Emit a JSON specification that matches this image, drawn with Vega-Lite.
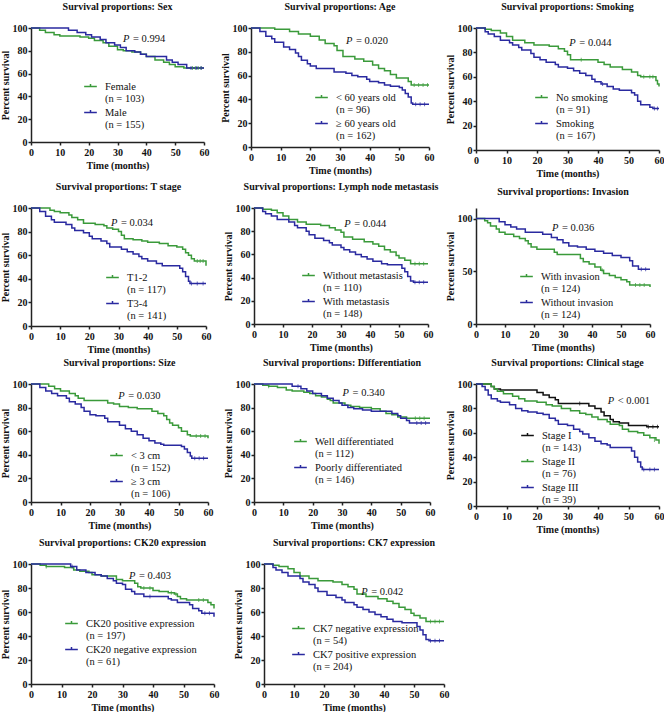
{
"$schema": "https://vega.github.io/schema/vega-lite/v6.json",
"padding": {"left": 0, "top": 2, "right": 0, "bottom": 0},
"bounds": "full",
"spacing": 4,
"config": {
 "font": "Liberation Serif",
 "view": {"stroke": null},
 "axis": {"grid": false, "labelOverlap": false, "labelFlush": false, "tickCount": 20, "domainColor": "#222", "domainWidth": 1.5, "tickColor": "#222", "tickWidth": 1.5, "tickSize": 3, "labelFont": "Liberation Serif", "labelFontWeight": "bold", "labelFontSize": 10, "labelColor": "#111", "labelPadding": 1, "titleFont": "Liberation Serif", "titleFontWeight": "bold", "titleFontSize": 10, "titleColor": "#111"},
 "axisX": {"titlePadding": 3, "labelPadding": 2, "labelFlush": false},
 "axisY": {"titlePadding": 2},
 "title": {"font": "Liberation Serif", "fontSize": 10, "fontWeight": "bold", "color": "#111", "offset": 11, "anchor": "middle"},
 "legend": {"labelFont": "Liberation Serif", "labelFontSize": 10.5, "labelColor": "#111", "symbolStrokeWidth": 1.5, "symbolSize": 160, "symbolType": "M-1,0H1M0,0V-0.4", "labelOffset": 7, "rowPadding": 0, "padding": 0, "labelLimit": 300, "title": null},
 "line": {"interpolate": "step-after", "strokeWidth": 1.5},
 "tick": {"orient": "vertical", "size": 4, "thickness": 1}
},
"resolve": {"scale": {"color": "independent"}, "legend": {"color": "independent"}},
"datasets": {
 "cens": [
  {"p":"sex","g":"Female (n = 103)","t":56,"s":65},{"p":"sex","g":"Female (n = 103)","t":57,"s":65},{"p":"sex","g":"Female (n = 103)","t":58,"s":65},{"p":"sex","g":"Female (n = 103)","t":59,"s":65},
  {"p":"sex","g":"Male (n = 155)","t":55.5,"s":65},{"p":"sex","g":"Male (n = 155)","t":57.5,"s":65},{"p":"sex","g":"Male (n = 155)","t":59,"s":65},
  {"p":"age","g":"< 60 years old (n = 96)","t":55,"s":52},{"p":"age","g":"< 60 years old (n = 96)","t":56.5,"s":52},{"p":"age","g":"< 60 years old (n = 96)","t":58,"s":52},{"p":"age","g":"< 60 years old (n = 96)","t":59.5,"s":52},
  {"p":"age","g":"≥ 60 years old (n = 162)","t":55.5,"s":36},{"p":"age","g":"≥ 60 years old (n = 162)","t":57,"s":36},{"p":"age","g":"≥ 60 years old (n = 162)","t":58.5,"s":36},
  {"p":"smoke","g":"No smoking (n = 91)","t":34.5,"s":74},{"p":"smoke","g":"No smoking (n = 91)","t":55,"s":60},{"p":"smoke","g":"No smoking (n = 91)","t":57,"s":60},{"p":"smoke","g":"No smoking (n = 91)","t":58,"s":60},
  {"p":"smoke","g":"Smoking (n = 167)","t":41.5,"s":54},{"p":"smoke","g":"Smoking (n = 167)","t":58.5,"s":34},{"p":"smoke","g":"Smoking (n = 167)","t":59.5,"s":34},
  {"p":"tstage","g":"T1-2 (n = 117)","t":57,"s":55},{"p":"tstage","g":"T1-2 (n = 117)","t":58,"s":55},{"p":"tstage","g":"T1-2 (n = 117)","t":59,"s":55},
  {"p":"tstage","g":"T3-4 (n = 141)","t":55,"s":36},{"p":"tstage","g":"T3-4 (n = 141)","t":57,"s":36},{"p":"tstage","g":"T3-4 (n = 141)","t":59,"s":36},
  {"p":"lymph","g":"Without metastasis (n = 110)","t":55.5,"s":52},{"p":"lymph","g":"Without metastasis (n = 110)","t":57,"s":52},{"p":"lymph","g":"Without metastasis (n = 110)","t":58.5,"s":52},
  {"p":"lymph","g":"With metastasis (n = 148)","t":55.5,"s":36},{"p":"lymph","g":"With metastasis (n = 148)","t":57,"s":36},{"p":"lymph","g":"With metastasis (n = 148)","t":58.5,"s":36},
  {"p":"inv","g":"With invasion (n = 124)","t":43.5,"s":51},{"p":"inv","g":"With invasion (n = 124)","t":55,"s":37},{"p":"inv","g":"With invasion (n = 124)","t":56.5,"s":37},{"p":"inv","g":"With invasion (n = 124)","t":58,"s":37},
  {"p":"inv","g":"Without invasion (n = 124)","t":57,"s":52},{"p":"inv","g":"Without invasion (n = 124)","t":58.5,"s":52},
  {"p":"size","g":"< 3 cm (n = 152)","t":56,"s":56},{"p":"size","g":"< 3 cm (n = 152)","t":57.5,"s":56},{"p":"size","g":"< 3 cm (n = 152)","t":59,"s":56},
  {"p":"size","g":"≥ 3 cm (n = 106)","t":55.5,"s":37},{"p":"size","g":"≥ 3 cm (n = 106)","t":57,"s":37},{"p":"size","g":"≥ 3 cm (n = 106)","t":58.5,"s":37},
  {"p":"diff","g":"Well differentiated (n = 112)","t":5,"s":98},{"p":"diff","g":"Well differentiated (n = 112)","t":55,"s":71},{"p":"diff","g":"Well differentiated (n = 112)","t":56.5,"s":71},{"p":"diff","g":"Well differentiated (n = 112)","t":58,"s":71},
  {"p":"diff","g":"Poorly differentiated (n = 146)","t":15,"s":98},{"p":"diff","g":"Poorly differentiated (n = 146)","t":55.5,"s":67},{"p":"diff","g":"Poorly differentiated (n = 146)","t":57,"s":67},{"p":"diff","g":"Poorly differentiated (n = 146)","t":58.5,"s":67},
  {"p":"clin","g":"Stage I (n = 143)","t":34,"s":84},{"p":"clin","g":"Stage I (n = 143)","t":56.5,"s":65},{"p":"clin","g":"Stage I (n = 143)","t":58,"s":65},{"p":"clin","g":"Stage I (n = 143)","t":59.5,"s":65},
  {"p":"clin","g":"Stage II (n = 76)","t":58.5,"s":54},
  {"p":"clin","g":"Stage III (n = 39)","t":55,"s":30},{"p":"clin","g":"Stage III (n = 39)","t":57,"s":30},{"p":"clin","g":"Stage III (n = 39)","t":58.5,"s":30},
  {"p":"ck20","g":"CK20 positive expression (n = 197)","t":5,"s":98},{"p":"ck20","g":"CK20 positive expression (n = 197)","t":37,"s":80},{"p":"ck20","g":"CK20 positive expression (n = 197)","t":39,"s":80},{"p":"ck20","g":"CK20 positive expression (n = 197)","t":46,"s":76},{"p":"ck20","g":"CK20 positive expression (n = 197)","t":47.5,"s":75},{"p":"ck20","g":"CK20 positive expression (n = 197)","t":55,"s":70},{"p":"ck20","g":"CK20 positive expression (n = 197)","t":56.5,"s":70},
  {"p":"ck20","g":"CK20 negative expression (n = 61)","t":13.5,"s":98},{"p":"ck20","g":"CK20 negative expression (n = 61)","t":39,"s":73},{"p":"ck20","g":"CK20 negative expression (n = 61)","t":57,"s":59},{"p":"ck20","g":"CK20 negative expression (n = 61)","t":58.5,"s":59},
  {"p":"ck7","g":"CK7 negative expression (n = 54)","t":55.5,"s":52},{"p":"ck7","g":"CK7 negative expression (n = 54)","t":57,"s":52},{"p":"ck7","g":"CK7 negative expression (n = 54)","t":58.5,"s":52},
  {"p":"ck7","g":"CK7 positive expression (n = 204)","t":55.5,"s":36},{"p":"ck7","g":"CK7 positive expression (n = 204)","t":57,"s":36},{"p":"ck7","g":"CK7 positive expression (n = 204)","t":58.5,"s":36}
 ],
 "sex": [
  {"g":"Female (n = 103)","t":0,"s":100},{"g":"Female (n = 103)","t":3,"s":98},{"g":"Female (n = 103)","t":5,"s":96},{"g":"Female (n = 103)","t":8,"s":94},{"g":"Female (n = 103)","t":10,"s":93},{"g":"Female (n = 103)","t":17,"s":92},{"g":"Female (n = 103)","t":20,"s":91},{"g":"Female (n = 103)","t":22,"s":89},{"g":"Female (n = 103)","t":25,"s":87},{"g":"Female (n = 103)","t":27,"s":84},{"g":"Female (n = 103)","t":30,"s":81},{"g":"Female (n = 103)","t":32,"s":80},{"g":"Female (n = 103)","t":35,"s":79},{"g":"Female (n = 103)","t":38,"s":77},{"g":"Female (n = 103)","t":40,"s":75},{"g":"Female (n = 103)","t":43,"s":72},{"g":"Female (n = 103)","t":46,"s":70},{"g":"Female (n = 103)","t":48,"s":68},{"g":"Female (n = 103)","t":50,"s":66},{"g":"Female (n = 103)","t":53,"s":65},{"g":"Female (n = 103)","t":60,"s":65},
  {"g":"Male (n = 155)","t":0,"s":100},{"g":"Male (n = 155)","t":13,"s":98},{"g":"Male (n = 155)","t":16,"s":96},{"g":"Male (n = 155)","t":19,"s":94},{"g":"Male (n = 155)","t":21,"s":92},{"g":"Male (n = 155)","t":24,"s":90},{"g":"Male (n = 155)","t":26,"s":87},{"g":"Male (n = 155)","t":29,"s":85},{"g":"Male (n = 155)","t":31,"s":83},{"g":"Male (n = 155)","t":33,"s":80},{"g":"Male (n = 155)","t":36,"s":79},{"g":"Male (n = 155)","t":38,"s":77},{"g":"Male (n = 155)","t":40,"s":75},{"g":"Male (n = 155)","t":47,"s":72},{"g":"Male (n = 155)","t":49,"s":70},{"g":"Male (n = 155)","t":51,"s":68},{"g":"Male (n = 155)","t":54,"s":65},{"g":"Male (n = 155)","t":60,"s":65}
 ],
 "age": [
  {"g":"< 60 years old (n = 96)","t":0,"s":100},{"g":"< 60 years old (n = 96)","t":8,"s":99},{"g":"< 60 years old (n = 96)","t":13,"s":97},{"g":"< 60 years old (n = 96)","t":16,"s":95},{"g":"< 60 years old (n = 96)","t":20,"s":93},{"g":"< 60 years old (n = 96)","t":23,"s":90},{"g":"< 60 years old (n = 96)","t":25,"s":87},{"g":"< 60 years old (n = 96)","t":28,"s":85},{"g":"< 60 years old (n = 96)","t":29,"s":81},{"g":"< 60 years old (n = 96)","t":31,"s":76},{"g":"< 60 years old (n = 96)","t":35,"s":74},{"g":"< 60 years old (n = 96)","t":38,"s":72},{"g":"< 60 years old (n = 96)","t":41,"s":69},{"g":"< 60 years old (n = 96)","t":43,"s":66},{"g":"< 60 years old (n = 96)","t":45,"s":64},{"g":"< 60 years old (n = 96)","t":47,"s":61},{"g":"< 60 years old (n = 96)","t":49,"s":58},{"g":"< 60 years old (n = 96)","t":53,"s":55},{"g":"< 60 years old (n = 96)","t":54,"s":52},{"g":"< 60 years old (n = 96)","t":60,"s":52},
  {"g":"≥ 60 years old (n = 162)","t":0,"s":100},{"g":"≥ 60 years old (n = 162)","t":3,"s":97},{"g":"≥ 60 years old (n = 162)","t":5,"s":93},{"g":"≥ 60 years old (n = 162)","t":7,"s":91},{"g":"≥ 60 years old (n = 162)","t":8,"s":88},{"g":"≥ 60 years old (n = 162)","t":11,"s":84},{"g":"≥ 60 years old (n = 162)","t":13,"s":82},{"g":"≥ 60 years old (n = 162)","t":15,"s":79},{"g":"≥ 60 years old (n = 162)","t":16,"s":76},{"g":"≥ 60 years old (n = 162)","t":17,"s":73},{"g":"≥ 60 years old (n = 162)","t":19,"s":70},{"g":"≥ 60 years old (n = 162)","t":20,"s":68},{"g":"≥ 60 years old (n = 162)","t":22,"s":66},{"g":"≥ 60 years old (n = 162)","t":28,"s":63},{"g":"≥ 60 years old (n = 162)","t":32,"s":62},{"g":"≥ 60 years old (n = 162)","t":34,"s":60},{"g":"≥ 60 years old (n = 162)","t":36,"s":59},{"g":"≥ 60 years old (n = 162)","t":39,"s":57},{"g":"≥ 60 years old (n = 162)","t":40,"s":55},{"g":"≥ 60 years old (n = 162)","t":43,"s":54},{"g":"≥ 60 years old (n = 162)","t":45,"s":52},{"g":"≥ 60 years old (n = 162)","t":47,"s":51},{"g":"≥ 60 years old (n = 162)","t":50,"s":50},{"g":"≥ 60 years old (n = 162)","t":51,"s":48},{"g":"≥ 60 years old (n = 162)","t":52,"s":45},{"g":"≥ 60 years old (n = 162)","t":53,"s":42},{"g":"≥ 60 years old (n = 162)","t":54,"s":37},{"g":"≥ 60 years old (n = 162)","t":54.5,"s":36},{"g":"≥ 60 years old (n = 162)","t":60,"s":36}
 ],
 "smoke": [
  {"g":"No smoking (n = 91)","t":0,"s":100},{"g":"No smoking (n = 91)","t":3,"s":99},{"g":"No smoking (n = 91)","t":5,"s":98},{"g":"No smoking (n = 91)","t":8,"s":96},{"g":"No smoking (n = 91)","t":10,"s":93},{"g":"No smoking (n = 91)","t":12,"s":90},{"g":"No smoking (n = 91)","t":16,"s":88},{"g":"No smoking (n = 91)","t":19,"s":86},{"g":"No smoking (n = 91)","t":24,"s":85},{"g":"No smoking (n = 91)","t":27,"s":83},{"g":"No smoking (n = 91)","t":29,"s":81},{"g":"No smoking (n = 91)","t":30,"s":78},{"g":"No smoking (n = 91)","t":31,"s":74},{"g":"No smoking (n = 91)","t":40,"s":72},{"g":"No smoking (n = 91)","t":42,"s":70},{"g":"No smoking (n = 91)","t":44,"s":68},{"g":"No smoking (n = 91)","t":48,"s":66},{"g":"No smoking (n = 91)","t":51,"s":64},{"g":"No smoking (n = 91)","t":53,"s":61},{"g":"No smoking (n = 91)","t":54,"s":60},{"g":"No smoking (n = 91)","t":59,"s":57},{"g":"No smoking (n = 91)","t":59.5,"s":54},{"g":"No smoking (n = 91)","t":60,"s":52},
  {"g":"Smoking (n = 167)","t":0,"s":100},{"g":"Smoking (n = 167)","t":3,"s":97},{"g":"Smoking (n = 167)","t":4,"s":95},{"g":"Smoking (n = 167)","t":6,"s":93},{"g":"Smoking (n = 167)","t":8,"s":90},{"g":"Smoking (n = 167)","t":11,"s":88},{"g":"Smoking (n = 167)","t":12,"s":86},{"g":"Smoking (n = 167)","t":14,"s":84},{"g":"Smoking (n = 167)","t":15,"s":82},{"g":"Smoking (n = 167)","t":18,"s":79},{"g":"Smoking (n = 167)","t":19,"s":76},{"g":"Smoking (n = 167)","t":21,"s":74},{"g":"Smoking (n = 167)","t":23,"s":72},{"g":"Smoking (n = 167)","t":26,"s":70},{"g":"Smoking (n = 167)","t":27,"s":68},{"g":"Smoking (n = 167)","t":30,"s":67},{"g":"Smoking (n = 167)","t":32,"s":65},{"g":"Smoking (n = 167)","t":34,"s":63},{"g":"Smoking (n = 167)","t":36,"s":61},{"g":"Smoking (n = 167)","t":38,"s":58},{"g":"Smoking (n = 167)","t":39,"s":56},{"g":"Smoking (n = 167)","t":41,"s":54},{"g":"Smoking (n = 167)","t":43,"s":52},{"g":"Smoking (n = 167)","t":45,"s":50},{"g":"Smoking (n = 167)","t":47,"s":49},{"g":"Smoking (n = 167)","t":51,"s":47},{"g":"Smoking (n = 167)","t":52,"s":45},{"g":"Smoking (n = 167)","t":53,"s":40},{"g":"Smoking (n = 167)","t":54,"s":37},{"g":"Smoking (n = 167)","t":57,"s":35},{"g":"Smoking (n = 167)","t":58,"s":34},{"g":"Smoking (n = 167)","t":60,"s":34}
 ],
 "tstage": [
  {"g":"T1-2 (n = 117)","t":0,"s":100},{"g":"T1-2 (n = 117)","t":6.5,"s":98},{"g":"T1-2 (n = 117)","t":8,"s":97},{"g":"T1-2 (n = 117)","t":10,"s":96},{"g":"T1-2 (n = 117)","t":13,"s":94},{"g":"T1-2 (n = 117)","t":14,"s":92},{"g":"T1-2 (n = 117)","t":16,"s":90},{"g":"T1-2 (n = 117)","t":18,"s":87},{"g":"T1-2 (n = 117)","t":22,"s":86},{"g":"T1-2 (n = 117)","t":25,"s":85},{"g":"T1-2 (n = 117)","t":26,"s":83},{"g":"T1-2 (n = 117)","t":28,"s":82},{"g":"T1-2 (n = 117)","t":30,"s":80},{"g":"T1-2 (n = 117)","t":31,"s":77},{"g":"T1-2 (n = 117)","t":32,"s":74},{"g":"T1-2 (n = 117)","t":35,"s":73},{"g":"T1-2 (n = 117)","t":38,"s":72},{"g":"T1-2 (n = 117)","t":40,"s":71},{"g":"T1-2 (n = 117)","t":44,"s":70},{"g":"T1-2 (n = 117)","t":47,"s":68},{"g":"T1-2 (n = 117)","t":50,"s":67},{"g":"T1-2 (n = 117)","t":52,"s":65},{"g":"T1-2 (n = 117)","t":53,"s":62},{"g":"T1-2 (n = 117)","t":54,"s":60},{"g":"T1-2 (n = 117)","t":55,"s":57},{"g":"T1-2 (n = 117)","t":56,"s":55},{"g":"T1-2 (n = 117)","t":59.5,"s":55},{"g":"T1-2 (n = 117)","t":60,"s":51},
  {"g":"T3-4 (n = 141)","t":0,"s":100},{"g":"T3-4 (n = 141)","t":3,"s":97},{"g":"T3-4 (n = 141)","t":5,"s":93},{"g":"T3-4 (n = 141)","t":7,"s":90},{"g":"T3-4 (n = 141)","t":8,"s":88},{"g":"T3-4 (n = 141)","t":12,"s":86},{"g":"T3-4 (n = 141)","t":14,"s":83},{"g":"T3-4 (n = 141)","t":15,"s":81},{"g":"T3-4 (n = 141)","t":18,"s":79},{"g":"T3-4 (n = 141)","t":20,"s":76},{"g":"T3-4 (n = 141)","t":21,"s":74},{"g":"T3-4 (n = 141)","t":24,"s":72},{"g":"T3-4 (n = 141)","t":26,"s":70},{"g":"T3-4 (n = 141)","t":27,"s":67},{"g":"T3-4 (n = 141)","t":31,"s":65},{"g":"T3-4 (n = 141)","t":33,"s":63},{"g":"T3-4 (n = 141)","t":35,"s":61},{"g":"T3-4 (n = 141)","t":37,"s":59},{"g":"T3-4 (n = 141)","t":38,"s":57},{"g":"T3-4 (n = 141)","t":40,"s":55},{"g":"T3-4 (n = 141)","t":43,"s":53},{"g":"T3-4 (n = 141)","t":45,"s":51},{"g":"T3-4 (n = 141)","t":51,"s":49},{"g":"T3-4 (n = 141)","t":52,"s":46},{"g":"T3-4 (n = 141)","t":53,"s":42},{"g":"T3-4 (n = 141)","t":54,"s":38},{"g":"T3-4 (n = 141)","t":54.5,"s":36},{"g":"T3-4 (n = 141)","t":60,"s":36}
 ],
 "lymph": [
  {"g":"Without metastasis (n = 110)","t":0,"s":100},{"g":"Without metastasis (n = 110)","t":3,"s":99},{"g":"Without metastasis (n = 110)","t":6,"s":98},{"g":"Without metastasis (n = 110)","t":8,"s":96},{"g":"Without metastasis (n = 110)","t":10,"s":93},{"g":"Without metastasis (n = 110)","t":12,"s":90},{"g":"Without metastasis (n = 110)","t":15,"s":88},{"g":"Without metastasis (n = 110)","t":18,"s":86},{"g":"Without metastasis (n = 110)","t":23,"s":85},{"g":"Without metastasis (n = 110)","t":26,"s":83},{"g":"Without metastasis (n = 110)","t":28,"s":81},{"g":"Without metastasis (n = 110)","t":30,"s":79},{"g":"Without metastasis (n = 110)","t":31,"s":75},{"g":"Without metastasis (n = 110)","t":34,"s":73},{"g":"Without metastasis (n = 110)","t":38,"s":71},{"g":"Without metastasis (n = 110)","t":41,"s":69},{"g":"Without metastasis (n = 110)","t":43,"s":67},{"g":"Without metastasis (n = 110)","t":45,"s":64},{"g":"Without metastasis (n = 110)","t":47,"s":62},{"g":"Without metastasis (n = 110)","t":49,"s":59},{"g":"Without metastasis (n = 110)","t":50,"s":57},{"g":"Without metastasis (n = 110)","t":52,"s":55},{"g":"Without metastasis (n = 110)","t":54,"s":52},{"g":"Without metastasis (n = 110)","t":60,"s":52},
  {"g":"With metastasis (n = 148)","t":0,"s":100},{"g":"With metastasis (n = 148)","t":3,"s":97},{"g":"With metastasis (n = 148)","t":4,"s":95},{"g":"With metastasis (n = 148)","t":6,"s":93},{"g":"With metastasis (n = 148)","t":8,"s":90},{"g":"With metastasis (n = 148)","t":12,"s":88},{"g":"With metastasis (n = 148)","t":14,"s":85},{"g":"With metastasis (n = 148)","t":15,"s":83},{"g":"With metastasis (n = 148)","t":18,"s":80},{"g":"With metastasis (n = 148)","t":19,"s":77},{"g":"With metastasis (n = 148)","t":21,"s":74},{"g":"With metastasis (n = 148)","t":24,"s":72},{"g":"With metastasis (n = 148)","t":26,"s":70},{"g":"With metastasis (n = 148)","t":27,"s":68},{"g":"With metastasis (n = 148)","t":30,"s":66},{"g":"With metastasis (n = 148)","t":31,"s":64},{"g":"With metastasis (n = 148)","t":33,"s":62},{"g":"With metastasis (n = 148)","t":35,"s":60},{"g":"With metastasis (n = 148)","t":37,"s":58},{"g":"With metastasis (n = 148)","t":39,"s":56},{"g":"With metastasis (n = 148)","t":41,"s":54},{"g":"With metastasis (n = 148)","t":44,"s":52},{"g":"With metastasis (n = 148)","t":46,"s":51},{"g":"With metastasis (n = 148)","t":51,"s":48},{"g":"With metastasis (n = 148)","t":52,"s":45},{"g":"With metastasis (n = 148)","t":53,"s":41},{"g":"With metastasis (n = 148)","t":54,"s":37},{"g":"With metastasis (n = 148)","t":55,"s":36},{"g":"With metastasis (n = 148)","t":60,"s":36}
 ],
 "inv": [
  {"g":"With invasion (n = 124)","t":0,"s":100},{"g":"With invasion (n = 124)","t":3,"s":98},{"g":"With invasion (n = 124)","t":4,"s":96},{"g":"With invasion (n = 124)","t":5,"s":93},{"g":"With invasion (n = 124)","t":7,"s":90},{"g":"With invasion (n = 124)","t":8,"s":87},{"g":"With invasion (n = 124)","t":10,"s":85},{"g":"With invasion (n = 124)","t":13,"s":83},{"g":"With invasion (n = 124)","t":15,"s":81},{"g":"With invasion (n = 124)","t":17,"s":79},{"g":"With invasion (n = 124)","t":18,"s":76},{"g":"With invasion (n = 124)","t":19,"s":73},{"g":"With invasion (n = 124)","t":21,"s":71},{"g":"With invasion (n = 124)","t":27,"s":68},{"g":"With invasion (n = 124)","t":28,"s":66},{"g":"With invasion (n = 124)","t":36,"s":62},{"g":"With invasion (n = 124)","t":37,"s":59},{"g":"With invasion (n = 124)","t":39,"s":57},{"g":"With invasion (n = 124)","t":41,"s":54},{"g":"With invasion (n = 124)","t":43,"s":51},{"g":"With invasion (n = 124)","t":44,"s":48},{"g":"With invasion (n = 124)","t":46,"s":46},{"g":"With invasion (n = 124)","t":48,"s":44},{"g":"With invasion (n = 124)","t":50,"s":42},{"g":"With invasion (n = 124)","t":52,"s":40},{"g":"With invasion (n = 124)","t":53,"s":37},{"g":"With invasion (n = 124)","t":59,"s":37},{"g":"With invasion (n = 124)","t":60,"s":35},
  {"g":"Without invasion (n = 124)","t":0,"s":100},{"g":"Without invasion (n = 124)","t":8,"s":97},{"g":"Without invasion (n = 124)","t":10,"s":94},{"g":"Without invasion (n = 124)","t":12,"s":92},{"g":"Without invasion (n = 124)","t":14,"s":90},{"g":"Without invasion (n = 124)","t":17,"s":87},{"g":"Without invasion (n = 124)","t":23,"s":85},{"g":"Without invasion (n = 124)","t":26,"s":82},{"g":"Without invasion (n = 124)","t":28,"s":80},{"g":"Without invasion (n = 124)","t":30,"s":77},{"g":"Without invasion (n = 124)","t":32,"s":74},{"g":"Without invasion (n = 124)","t":35,"s":73},{"g":"Without invasion (n = 124)","t":38,"s":71},{"g":"Without invasion (n = 124)","t":41,"s":69},{"g":"Without invasion (n = 124)","t":44,"s":67},{"g":"Without invasion (n = 124)","t":47,"s":65},{"g":"Without invasion (n = 124)","t":50,"s":63},{"g":"Without invasion (n = 124)","t":53,"s":60},{"g":"Without invasion (n = 124)","t":54,"s":55},{"g":"Without invasion (n = 124)","t":56,"s":52},{"g":"Without invasion (n = 124)","t":60,"s":52}
 ],
 "size": [
  {"g":"< 3 cm (n = 152)","t":0,"s":100},{"g":"< 3 cm (n = 152)","t":6,"s":98},{"g":"< 3 cm (n = 152)","t":8,"s":96},{"g":"< 3 cm (n = 152)","t":10,"s":94},{"g":"< 3 cm (n = 152)","t":13,"s":92},{"g":"< 3 cm (n = 152)","t":15,"s":90},{"g":"< 3 cm (n = 152)","t":16,"s":88},{"g":"< 3 cm (n = 152)","t":18,"s":86},{"g":"< 3 cm (n = 152)","t":26,"s":84},{"g":"< 3 cm (n = 152)","t":28,"s":83},{"g":"< 3 cm (n = 152)","t":30,"s":81},{"g":"< 3 cm (n = 152)","t":33,"s":80},{"g":"< 3 cm (n = 152)","t":36,"s":79},{"g":"< 3 cm (n = 152)","t":41,"s":77},{"g":"< 3 cm (n = 152)","t":43,"s":75},{"g":"< 3 cm (n = 152)","t":45,"s":73},{"g":"< 3 cm (n = 152)","t":46,"s":70},{"g":"< 3 cm (n = 152)","t":47,"s":67},{"g":"< 3 cm (n = 152)","t":48,"s":65},{"g":"< 3 cm (n = 152)","t":50,"s":63},{"g":"< 3 cm (n = 152)","t":51,"s":60},{"g":"< 3 cm (n = 152)","t":53,"s":57},{"g":"< 3 cm (n = 152)","t":54,"s":56},{"g":"< 3 cm (n = 152)","t":59.5,"s":56},{"g":"< 3 cm (n = 152)","t":60,"s":54},
  {"g":"≥ 3 cm (n = 106)","t":0,"s":100},{"g":"≥ 3 cm (n = 106)","t":3,"s":97},{"g":"≥ 3 cm (n = 106)","t":5,"s":94},{"g":"≥ 3 cm (n = 106)","t":7,"s":92},{"g":"≥ 3 cm (n = 106)","t":9,"s":90},{"g":"≥ 3 cm (n = 106)","t":12,"s":88},{"g":"≥ 3 cm (n = 106)","t":13,"s":85},{"g":"≥ 3 cm (n = 106)","t":15,"s":83},{"g":"≥ 3 cm (n = 106)","t":17,"s":80},{"g":"≥ 3 cm (n = 106)","t":18,"s":77},{"g":"≥ 3 cm (n = 106)","t":20,"s":74},{"g":"≥ 3 cm (n = 106)","t":22,"s":73},{"g":"≥ 3 cm (n = 106)","t":25,"s":71},{"g":"≥ 3 cm (n = 106)","t":26,"s":68},{"g":"≥ 3 cm (n = 106)","t":30,"s":65},{"g":"≥ 3 cm (n = 106)","t":32,"s":62},{"g":"≥ 3 cm (n = 106)","t":34,"s":60},{"g":"≥ 3 cm (n = 106)","t":36,"s":57},{"g":"≥ 3 cm (n = 106)","t":38,"s":54},{"g":"≥ 3 cm (n = 106)","t":40,"s":52},{"g":"≥ 3 cm (n = 106)","t":42,"s":50},{"g":"≥ 3 cm (n = 106)","t":44,"s":49},{"g":"≥ 3 cm (n = 106)","t":45,"s":48},{"g":"≥ 3 cm (n = 106)","t":51,"s":47},{"g":"≥ 3 cm (n = 106)","t":52,"s":45},{"g":"≥ 3 cm (n = 106)","t":53,"s":42},{"g":"≥ 3 cm (n = 106)","t":54,"s":39},{"g":"≥ 3 cm (n = 106)","t":54.5,"s":37},{"g":"≥ 3 cm (n = 106)","t":60,"s":37}
 ],
 "diff": [
  {"g":"Well differentiated (n = 112)","t":0,"s":100},{"g":"Well differentiated (n = 112)","t":3,"s":99},{"g":"Well differentiated (n = 112)","t":5,"s":98},{"g":"Well differentiated (n = 112)","t":8,"s":97},{"g":"Well differentiated (n = 112)","t":11,"s":95},{"g":"Well differentiated (n = 112)","t":13,"s":94},{"g":"Well differentiated (n = 112)","t":17,"s":93},{"g":"Well differentiated (n = 112)","t":19,"s":92},{"g":"Well differentiated (n = 112)","t":21,"s":90},{"g":"Well differentiated (n = 112)","t":23,"s":89},{"g":"Well differentiated (n = 112)","t":25,"s":87},{"g":"Well differentiated (n = 112)","t":26,"s":86},{"g":"Well differentiated (n = 112)","t":27,"s":84},{"g":"Well differentiated (n = 112)","t":31,"s":82},{"g":"Well differentiated (n = 112)","t":33,"s":81},{"g":"Well differentiated (n = 112)","t":36,"s":80},{"g":"Well differentiated (n = 112)","t":40,"s":79},{"g":"Well differentiated (n = 112)","t":43,"s":77},{"g":"Well differentiated (n = 112)","t":45,"s":75},{"g":"Well differentiated (n = 112)","t":47,"s":74},{"g":"Well differentiated (n = 112)","t":49,"s":72},{"g":"Well differentiated (n = 112)","t":52,"s":71},{"g":"Well differentiated (n = 112)","t":60,"s":71},
  {"g":"Poorly differentiated (n = 146)","t":0,"s":100},{"g":"Poorly differentiated (n = 146)","t":13,"s":98},{"g":"Poorly differentiated (n = 146)","t":16,"s":96},{"g":"Poorly differentiated (n = 146)","t":18,"s":94},{"g":"Poorly differentiated (n = 146)","t":20,"s":92},{"g":"Poorly differentiated (n = 146)","t":23,"s":90},{"g":"Poorly differentiated (n = 146)","t":25,"s":88},{"g":"Poorly differentiated (n = 146)","t":27,"s":86},{"g":"Poorly differentiated (n = 146)","t":29,"s":84},{"g":"Poorly differentiated (n = 146)","t":30,"s":82},{"g":"Poorly differentiated (n = 146)","t":32,"s":80},{"g":"Poorly differentiated (n = 146)","t":34,"s":79},{"g":"Poorly differentiated (n = 146)","t":37,"s":78},{"g":"Poorly differentiated (n = 146)","t":40,"s":77},{"g":"Poorly differentiated (n = 146)","t":47,"s":75},{"g":"Poorly differentiated (n = 146)","t":49,"s":73},{"g":"Poorly differentiated (n = 146)","t":50,"s":71},{"g":"Poorly differentiated (n = 146)","t":52,"s":69},{"g":"Poorly differentiated (n = 146)","t":53,"s":67},{"g":"Poorly differentiated (n = 146)","t":60,"s":67}
 ],
 "clin": [
  {"g":"Stage I (n = 143)","t":0,"s":100},{"g":"Stage I (n = 143)","t":5,"s":98},{"g":"Stage I (n = 143)","t":6,"s":96},{"g":"Stage I (n = 143)","t":8,"s":95},{"g":"Stage I (n = 143)","t":20,"s":93},{"g":"Stage I (n = 143)","t":22,"s":91},{"g":"Stage I (n = 143)","t":24,"s":89},{"g":"Stage I (n = 143)","t":26,"s":87},{"g":"Stage I (n = 143)","t":27,"s":84},{"g":"Stage I (n = 143)","t":37,"s":82},{"g":"Stage I (n = 143)","t":39,"s":80},{"g":"Stage I (n = 143)","t":41,"s":77},{"g":"Stage I (n = 143)","t":42,"s":74},{"g":"Stage I (n = 143)","t":44,"s":71},{"g":"Stage I (n = 143)","t":45,"s":69},{"g":"Stage I (n = 143)","t":47,"s":68},{"g":"Stage I (n = 143)","t":50,"s":66},{"g":"Stage I (n = 143)","t":56,"s":65},{"g":"Stage I (n = 143)","t":60,"s":65},
  {"g":"Stage II (n = 76)","t":0,"s":100},{"g":"Stage II (n = 76)","t":5,"s":98},{"g":"Stage II (n = 76)","t":6,"s":96},{"g":"Stage II (n = 76)","t":7,"s":94},{"g":"Stage II (n = 76)","t":9,"s":92},{"g":"Stage II (n = 76)","t":12,"s":90},{"g":"Stage II (n = 76)","t":14,"s":88},{"g":"Stage II (n = 76)","t":16,"s":86},{"g":"Stage II (n = 76)","t":20,"s":85},{"g":"Stage II (n = 76)","t":23,"s":83},{"g":"Stage II (n = 76)","t":25,"s":82},{"g":"Stage II (n = 76)","t":28,"s":80},{"g":"Stage II (n = 76)","t":31,"s":78},{"g":"Stage II (n = 76)","t":34,"s":76},{"g":"Stage II (n = 76)","t":36,"s":75},{"g":"Stage II (n = 76)","t":38,"s":73},{"g":"Stage II (n = 76)","t":40,"s":71},{"g":"Stage II (n = 76)","t":43,"s":69},{"g":"Stage II (n = 76)","t":44,"s":67},{"g":"Stage II (n = 76)","t":47,"s":66},{"g":"Stage II (n = 76)","t":48,"s":63},{"g":"Stage II (n = 76)","t":50,"s":61},{"g":"Stage II (n = 76)","t":53,"s":60},{"g":"Stage II (n = 76)","t":55,"s":58},{"g":"Stage II (n = 76)","t":57,"s":56},{"g":"Stage II (n = 76)","t":59,"s":54},{"g":"Stage II (n = 76)","t":60,"s":51},
  {"g":"Stage III (n = 39)","t":0,"s":100},{"g":"Stage III (n = 39)","t":2,"s":98},{"g":"Stage III (n = 39)","t":3,"s":95},{"g":"Stage III (n = 39)","t":4,"s":91},{"g":"Stage III (n = 39)","t":5,"s":88},{"g":"Stage III (n = 39)","t":7,"s":86},{"g":"Stage III (n = 39)","t":8,"s":85},{"g":"Stage III (n = 39)","t":11,"s":83},{"g":"Stage III (n = 39)","t":13,"s":80},{"g":"Stage III (n = 39)","t":15,"s":78},{"g":"Stage III (n = 39)","t":17,"s":77},{"g":"Stage III (n = 39)","t":20,"s":76},{"g":"Stage III (n = 39)","t":22,"s":75},{"g":"Stage III (n = 39)","t":24,"s":72},{"g":"Stage III (n = 39)","t":26,"s":70},{"g":"Stage III (n = 39)","t":27,"s":67},{"g":"Stage III (n = 39)","t":30,"s":66},{"g":"Stage III (n = 39)","t":32,"s":63},{"g":"Stage III (n = 39)","t":34,"s":61},{"g":"Stage III (n = 39)","t":35,"s":59},{"g":"Stage III (n = 39)","t":37,"s":56},{"g":"Stage III (n = 39)","t":39,"s":53},{"g":"Stage III (n = 39)","t":41,"s":51},{"g":"Stage III (n = 39)","t":43,"s":50},{"g":"Stage III (n = 39)","t":44,"s":48},{"g":"Stage III (n = 39)","t":51,"s":45},{"g":"Stage III (n = 39)","t":52,"s":40},{"g":"Stage III (n = 39)","t":53,"s":36},{"g":"Stage III (n = 39)","t":54,"s":32},{"g":"Stage III (n = 39)","t":54.5,"s":30},{"g":"Stage III (n = 39)","t":60,"s":30}
 ],
 "ck20": [
  {"g":"CK20 positive expression (n = 197)","t":0,"s":100},{"g":"CK20 positive expression (n = 197)","t":3,"s":99},{"g":"CK20 positive expression (n = 197)","t":5,"s":98},{"g":"CK20 positive expression (n = 197)","t":11,"s":97},{"g":"CK20 positive expression (n = 197)","t":14,"s":95},{"g":"CK20 positive expression (n = 197)","t":16,"s":94},{"g":"CK20 positive expression (n = 197)","t":19,"s":93},{"g":"CK20 positive expression (n = 197)","t":20,"s":91},{"g":"CK20 positive expression (n = 197)","t":23,"s":90},{"g":"CK20 positive expression (n = 197)","t":28,"s":87},{"g":"CK20 positive expression (n = 197)","t":30,"s":86},{"g":"CK20 positive expression (n = 197)","t":34,"s":84},{"g":"CK20 positive expression (n = 197)","t":35,"s":81},{"g":"CK20 positive expression (n = 197)","t":36,"s":80},{"g":"CK20 positive expression (n = 197)","t":40,"s":78},{"g":"CK20 positive expression (n = 197)","t":42,"s":77},{"g":"CK20 positive expression (n = 197)","t":45,"s":76},{"g":"CK20 positive expression (n = 197)","t":47,"s":75},{"g":"CK20 positive expression (n = 197)","t":48,"s":73},{"g":"CK20 positive expression (n = 197)","t":49,"s":71},{"g":"CK20 positive expression (n = 197)","t":51,"s":70},{"g":"CK20 positive expression (n = 197)","t":58,"s":68},{"g":"CK20 positive expression (n = 197)","t":59,"s":66},{"g":"CK20 positive expression (n = 197)","t":60,"s":63},
  {"g":"CK20 negative expression (n = 61)","t":0,"s":100},{"g":"CK20 negative expression (n = 61)","t":13,"s":98},{"g":"CK20 negative expression (n = 61)","t":15,"s":95},{"g":"CK20 negative expression (n = 61)","t":18,"s":93},{"g":"CK20 negative expression (n = 61)","t":21,"s":91},{"g":"CK20 negative expression (n = 61)","t":23,"s":90},{"g":"CK20 negative expression (n = 61)","t":25,"s":88},{"g":"CK20 negative expression (n = 61)","t":27,"s":86},{"g":"CK20 negative expression (n = 61)","t":28,"s":84},{"g":"CK20 negative expression (n = 61)","t":30,"s":83},{"g":"CK20 negative expression (n = 61)","t":31,"s":79},{"g":"CK20 negative expression (n = 61)","t":33,"s":77},{"g":"CK20 negative expression (n = 61)","t":34,"s":75},{"g":"CK20 negative expression (n = 61)","t":37,"s":73},{"g":"CK20 negative expression (n = 61)","t":45,"s":71},{"g":"CK20 negative expression (n = 61)","t":46,"s":70},{"g":"CK20 negative expression (n = 61)","t":48,"s":68},{"g":"CK20 negative expression (n = 61)","t":52,"s":66},{"g":"CK20 negative expression (n = 61)","t":53,"s":63},{"g":"CK20 negative expression (n = 61)","t":55,"s":61},{"g":"CK20 negative expression (n = 61)","t":56,"s":59},{"g":"CK20 negative expression (n = 61)","t":60,"s":56}
 ],
 "ck7": [
  {"g":"CK7 negative expression (n = 54)","t":0,"s":100},{"g":"CK7 negative expression (n = 54)","t":3,"s":99},{"g":"CK7 negative expression (n = 54)","t":5,"s":98},{"g":"CK7 negative expression (n = 54)","t":8,"s":96},{"g":"CK7 negative expression (n = 54)","t":10,"s":93},{"g":"CK7 negative expression (n = 54)","t":12,"s":90},{"g":"CK7 negative expression (n = 54)","t":15,"s":88},{"g":"CK7 negative expression (n = 54)","t":18,"s":86},{"g":"CK7 negative expression (n = 54)","t":23,"s":85},{"g":"CK7 negative expression (n = 54)","t":26,"s":83},{"g":"CK7 negative expression (n = 54)","t":28,"s":81},{"g":"CK7 negative expression (n = 54)","t":30,"s":79},{"g":"CK7 negative expression (n = 54)","t":31,"s":75},{"g":"CK7 negative expression (n = 54)","t":34,"s":73},{"g":"CK7 negative expression (n = 54)","t":38,"s":71},{"g":"CK7 negative expression (n = 54)","t":41,"s":69},{"g":"CK7 negative expression (n = 54)","t":43,"s":67},{"g":"CK7 negative expression (n = 54)","t":45,"s":64},{"g":"CK7 negative expression (n = 54)","t":47,"s":62},{"g":"CK7 negative expression (n = 54)","t":49,"s":59},{"g":"CK7 negative expression (n = 54)","t":50,"s":57},{"g":"CK7 negative expression (n = 54)","t":52,"s":55},{"g":"CK7 negative expression (n = 54)","t":54,"s":52},{"g":"CK7 negative expression (n = 54)","t":60,"s":52},
  {"g":"CK7 positive expression (n = 204)","t":0,"s":100},{"g":"CK7 positive expression (n = 204)","t":3,"s":97},{"g":"CK7 positive expression (n = 204)","t":4,"s":95},{"g":"CK7 positive expression (n = 204)","t":6,"s":93},{"g":"CK7 positive expression (n = 204)","t":8,"s":90},{"g":"CK7 positive expression (n = 204)","t":12,"s":88},{"g":"CK7 positive expression (n = 204)","t":13,"s":85},{"g":"CK7 positive expression (n = 204)","t":15,"s":83},{"g":"CK7 positive expression (n = 204)","t":17,"s":80},{"g":"CK7 positive expression (n = 204)","t":18,"s":77},{"g":"CK7 positive expression (n = 204)","t":21,"s":74},{"g":"CK7 positive expression (n = 204)","t":24,"s":72},{"g":"CK7 positive expression (n = 204)","t":26,"s":70},{"g":"CK7 positive expression (n = 204)","t":27,"s":68},{"g":"CK7 positive expression (n = 204)","t":30,"s":66},{"g":"CK7 positive expression (n = 204)","t":31,"s":64},{"g":"CK7 positive expression (n = 204)","t":33,"s":62},{"g":"CK7 positive expression (n = 204)","t":35,"s":60},{"g":"CK7 positive expression (n = 204)","t":37,"s":58},{"g":"CK7 positive expression (n = 204)","t":39,"s":56},{"g":"CK7 positive expression (n = 204)","t":41,"s":54},{"g":"CK7 positive expression (n = 204)","t":43,"s":52},{"g":"CK7 positive expression (n = 204)","t":46,"s":51},{"g":"CK7 positive expression (n = 204)","t":51,"s":48},{"g":"CK7 positive expression (n = 204)","t":52,"s":45},{"g":"CK7 positive expression (n = 204)","t":53,"s":41},{"g":"CK7 positive expression (n = 204)","t":54,"s":37},{"g":"CK7 positive expression (n = 204)","t":55,"s":36},{"g":"CK7 positive expression (n = 204)","t":60,"s":36}
 ]
},
"vconcat": [
 {"hconcat": [
  {"width": 173, "height": 114, "title": "Survival proportions: Sex", "layer": [
   {"data": {"name": "sex"}, "mark": "line", "encoding": {
    "x": {"field": "t", "type": "quantitative", "scale": {"domain": [0, 60]}, "axis": {"values": [0,10,20,30,40,50,60], "tickCount": 20, "labelOverlap": false, "title": "Time (months)"}},
    "y": {"field": "s", "type": "quantitative", "scale": {"domain": [0, 100]}, "axis": {"values": [0,20,40,60,80,100], "tickCount": 20, "labelOverlap": false, "title": "Percent survival"}},
    "color": {"field": "g", "type": "nominal", "scale": {"domain": ["Female (n = 103)", "Male (n = 155)"], "range": ["#3a9a3a", "#2a2aa0"]}, "legend": {"orient": "none", "legendX": 52, "legendY": 51, "labelExpr": "[slice(datum.label, 0, indexof(datum.label, ' (n')), slice(datum.label, indexof(datum.label, ' (n') + 1)]"}}}},
   {"data": {"name": "cens"}, "transform": [{"filter": "datum.p == 'sex'"}], "mark": "tick", "encoding": {"x": {"field": "t", "type": "quantitative"}, "y": {"field": "s", "type": "quantitative"}, "color": {"field": "g", "type": "nominal"}}},
   {"data": {"values": [{}]}, "mark": {"type": "text", "text": "P", "font": "Liberation Serif", "fontSize": 10.5, "color": "#111", "fontStyle": "italic", "align": "left"}, "encoding": {"x": {"datum": 31.9}, "y": {"datum": 90.4}}},
   {"data": {"values": [{}]}, "mark": {"type": "text", "text": "= 0.994", "font": "Liberation Serif", "fontSize": 10.5, "color": "#111", "align": "left", "dx": 10}, "encoding": {"x": {"datum": 31.9}, "y": {"datum": 90.4}}}
  ]},
  {"width": 178, "height": 119, "title": "Survival proportions: Age", "layer": [
   {"data": {"name": "age"}, "mark": "line", "encoding": {
    "x": {"field": "t", "type": "quantitative", "scale": {"domain": [0, 60]}, "axis": {"values": [0,10,20,30,40,50,60], "tickCount": 20, "labelOverlap": false, "title": "Time (months)"}},
    "y": {"field": "s", "type": "quantitative", "scale": {"domain": [0, 100]}, "axis": {"values": [0,20,40,60,80,100], "tickCount": 20, "labelOverlap": false, "title": "Percent survival"}},
    "color": {"field": "g", "type": "nominal", "scale": {"domain": ["< 60 years old (n = 96)", "≥ 60 years old (n = 162)"], "range": ["#3a9a3a", "#2a2aa0"]}, "legend": {"orient": "none", "legendX": 63, "legendY": 62, "labelExpr": "[slice(datum.label, 0, indexof(datum.label, ' (n')), slice(datum.label, indexof(datum.label, ' (n') + 1)]"}}}},
   {"data": {"name": "cens"}, "transform": [{"filter": "datum.p == 'age'"}], "mark": "tick", "encoding": {"x": {"field": "t", "type": "quantitative"}, "y": {"field": "s", "type": "quantitative"}, "color": {"field": "g", "type": "nominal"}}},
   {"data": {"values": [{}]}, "mark": {"type": "text", "text": "P", "font": "Liberation Serif", "fontSize": 10.5, "color": "#111", "fontStyle": "italic", "align": "left"}, "encoding": {"x": {"datum": 32}, "y": {"datum": 89}}},
   {"data": {"values": [{}]}, "mark": {"type": "text", "text": "= 0.020", "font": "Liberation Serif", "fontSize": 10.5, "color": "#111", "align": "left", "dx": 10}, "encoding": {"x": {"datum": 32}, "y": {"datum": 89}}}
  ]},
  {"width": 183, "height": 122, "title": "Survival proportions: Smoking", "layer": [
   {"data": {"name": "smoke"}, "mark": "line", "encoding": {
    "x": {"field": "t", "type": "quantitative", "scale": {"domain": [0, 60]}, "axis": {"values": [0,10,20,30,40,50,60], "tickCount": 20, "labelOverlap": false, "title": "Time (months)"}},
    "y": {"field": "s", "type": "quantitative", "scale": {"domain": [0, 100]}, "axis": {"values": [0,20,40,60,80,100], "tickCount": 20, "labelOverlap": false, "title": "Percent survival"}},
    "color": {"field": "g", "type": "nominal", "scale": {"domain": ["No smoking (n = 91)", "Smoking (n = 167)"], "range": ["#3a9a3a", "#2a2aa0"]}, "legend": {"orient": "none", "legendX": 58, "legendY": 62, "labelExpr": "[slice(datum.label, 0, indexof(datum.label, ' (n')), slice(datum.label, indexof(datum.label, ' (n') + 1)]"}}}},
   {"data": {"name": "cens"}, "transform": [{"filter": "datum.p == 'smoke'"}], "mark": "tick", "encoding": {"x": {"field": "t", "type": "quantitative"}, "y": {"field": "s", "type": "quantitative"}, "color": {"field": "g", "type": "nominal"}}},
   {"data": {"values": [{}]}, "mark": {"type": "text", "text": "P", "font": "Liberation Serif", "fontSize": 10.5, "color": "#111", "fontStyle": "italic", "align": "left"}, "encoding": {"x": {"datum": 30.6}, "y": {"datum": 87.5}}},
   {"data": {"values": [{}]}, "mark": {"type": "text", "text": "= 0.044", "font": "Liberation Serif", "fontSize": 10.5, "color": "#111", "align": "left", "dx": 10}, "encoding": {"x": {"datum": 30.6}, "y": {"datum": 87.5}}}
  ]}
 ], "spacing": 47, "bounds": "flush", "resolve": {"scale": {"color": "independent"}, "legend": {"color": "independent"}}},
 {"hconcat": [
  {"width": 175, "height": 118, "title": "Survival proportions: T stage", "layer": [
   {"data": {"name": "tstage"}, "mark": "line", "encoding": {
    "x": {"field": "t", "type": "quantitative", "scale": {"domain": [0, 60]}, "axis": {"values": [0,10,20,30,40,50,60], "tickCount": 20, "labelOverlap": false, "title": "Time (months)"}},
    "y": {"field": "s", "type": "quantitative", "scale": {"domain": [0, 100]}, "axis": {"values": [0,20,40,60,80,100], "tickCount": 20, "labelOverlap": false, "title": "Percent survival"}},
    "color": {"field": "g", "type": "nominal", "scale": {"domain": ["T1-2 (n = 117)", "T3-4 (n = 141)"], "range": ["#3a9a3a", "#2a2aa0"]}, "legend": {"orient": "none", "legendX": 74, "legendY": 62, "labelExpr": "[slice(datum.label, 0, indexof(datum.label, ' (n')), slice(datum.label, indexof(datum.label, ' (n') + 1)]"}}}},
   {"data": {"name": "cens"}, "transform": [{"filter": "datum.p == 'tstage'"}], "mark": "tick", "encoding": {"x": {"field": "t", "type": "quantitative"}, "y": {"field": "s", "type": "quantitative"}, "color": {"field": "g", "type": "nominal"}}},
   {"data": {"values": [{}]}, "mark": {"type": "text", "text": "P", "font": "Liberation Serif", "fontSize": 10.5, "color": "#111", "fontStyle": "italic", "align": "left"}, "encoding": {"x": {"datum": 27.4}, "y": {"datum": 87}}},
   {"data": {"values": [{}]}, "mark": {"type": "text", "text": "= 0.034", "font": "Liberation Serif", "fontSize": 10.5, "color": "#111", "align": "left", "dx": 10}, "encoding": {"x": {"datum": 27.4}, "y": {"datum": 87}}}
  ]},
  {"width": 174, "height": 116, "title": "Survival proportions: Lymph node metastasis", "layer": [
   {"data": {"name": "lymph"}, "mark": "line", "encoding": {
    "x": {"field": "t", "type": "quantitative", "scale": {"domain": [0, 60]}, "axis": {"values": [0,10,20,30,40,50,60], "tickCount": 20, "labelOverlap": false, "title": "Time (months)"}},
    "y": {"field": "s", "type": "quantitative", "scale": {"domain": [0, 100]}, "axis": {"values": [0,20,40,60,80,100], "tickCount": 20, "labelOverlap": false, "title": "Percent survival"}},
    "color": {"field": "g", "type": "nominal", "scale": {"domain": ["Without metastasis (n = 110)", "With metastasis (n = 148)"], "range": ["#3a9a3a", "#2a2aa0"]}, "legend": {"orient": "none", "legendX": 47, "legendY": 60, "labelExpr": "[slice(datum.label, 0, indexof(datum.label, ' (n')), slice(datum.label, indexof(datum.label, ' (n') + 1)]"}}}},
   {"data": {"name": "cens"}, "transform": [{"filter": "datum.p == 'lymph'"}], "mark": "tick", "encoding": {"x": {"field": "t", "type": "quantitative"}, "y": {"field": "s", "type": "quantitative"}, "color": {"field": "g", "type": "nominal"}}},
   {"data": {"values": [{}]}, "mark": {"type": "text", "text": "P", "font": "Liberation Serif", "fontSize": 10.5, "color": "#111", "fontStyle": "italic", "align": "left"}, "encoding": {"x": {"datum": 31.1}, "y": {"datum": 86.4}}},
   {"data": {"values": [{}]}, "mark": {"type": "text", "text": "= 0.044", "font": "Liberation Serif", "fontSize": 10.5, "color": "#111", "align": "left", "dx": 10}, "encoding": {"x": {"datum": 31.1}, "y": {"datum": 86.4}}}
  ]},
  {"width": 174, "height": 116, "title": "Survival proportions: Invasion", "layer": [
   {"data": {"name": "inv"}, "mark": "line", "encoding": {
    "x": {"field": "t", "type": "quantitative", "scale": {"domain": [0, 60]}, "axis": {"values": [0,10,20,30,40,50,60], "tickCount": 20, "labelOverlap": false, "title": "Time (months)"}},
    "y": {"field": "s", "type": "quantitative", "scale": {"domain": [0, 110]}, "axis": {"values": [0,50,100], "tickCount": 20, "labelOverlap": false, "title": "Percent survival"}},
    "color": {"field": "g", "type": "nominal", "scale": {"domain": ["With invasion (n = 124)", "Without invasion (n = 124)"], "range": ["#3a9a3a", "#2a2aa0"]}, "legend": {"orient": "none", "legendX": 43, "legendY": 61, "labelExpr": "[slice(datum.label, 0, indexof(datum.label, ' (n')), slice(datum.label, indexof(datum.label, ' (n') + 1)]"}}}},
   {"data": {"name": "cens"}, "transform": [{"filter": "datum.p == 'inv'"}], "mark": "tick", "encoding": {"x": {"field": "t", "type": "quantitative"}, "y": {"field": "s", "type": "quantitative"}, "color": {"field": "g", "type": "nominal"}}},
   {"data": {"values": [{}]}, "mark": {"type": "text", "text": "P", "font": "Liberation Serif", "fontSize": 10.5, "color": "#111", "fontStyle": "italic", "align": "left"}, "encoding": {"x": {"datum": 26.2}, "y": {"datum": 91.3}}},
   {"data": {"values": [{}]}, "mark": {"type": "text", "text": "= 0.036", "font": "Liberation Serif", "fontSize": 10.5, "color": "#111", "align": "left", "dx": 10}, "encoding": {"x": {"datum": 26.2}, "y": {"datum": 91.3}}}
  ]}
 ], "spacing": 48, "bounds": "flush", "resolve": {"scale": {"color": "independent"}, "legend": {"color": "independent"}}},
 {"hconcat": [
  {"width": 177, "height": 118, "title": "Survival proportions: Size", "layer": [
   {"data": {"name": "size"}, "mark": "line", "encoding": {
    "x": {"field": "t", "type": "quantitative", "scale": {"domain": [0, 60]}, "axis": {"values": [0,10,20,30,40,50,60], "tickCount": 20, "labelOverlap": false, "title": "Time (months)"}},
    "y": {"field": "s", "type": "quantitative", "scale": {"domain": [0, 100]}, "axis": {"values": [0,20,40,60,80,100], "tickCount": 20, "labelOverlap": false, "title": "Percent survival"}},
    "color": {"field": "g", "type": "nominal", "scale": {"domain": ["< 3 cm (n = 152)", "≥ 3 cm (n = 106)"], "range": ["#3a9a3a", "#2a2aa0"]}, "legend": {"orient": "none", "legendX": 78, "legendY": 64, "labelExpr": "[slice(datum.label, 0, indexof(datum.label, ' (n')), slice(datum.label, indexof(datum.label, ' (n') + 1)]"}}}},
   {"data": {"name": "cens"}, "transform": [{"filter": "datum.p == 'size'"}], "mark": "tick", "encoding": {"x": {"field": "t", "type": "quantitative"}, "y": {"field": "s", "type": "quantitative"}, "color": {"field": "g", "type": "nominal"}}},
   {"data": {"values": [{}]}, "mark": {"type": "text", "text": "P", "font": "Liberation Serif", "fontSize": 10.5, "color": "#111", "fontStyle": "italic", "align": "left"}, "encoding": {"x": {"datum": 29.6}, "y": {"datum": 89.8}}},
   {"data": {"values": [{}]}, "mark": {"type": "text", "text": "= 0.030", "font": "Liberation Serif", "fontSize": 10.5, "color": "#111", "align": "left", "dx": 10}, "encoding": {"x": {"datum": 29.6}, "y": {"datum": 89.8}}}
  ]},
  {"width": 176, "height": 118, "title": "Survival proportions: Differentiation", "layer": [
   {"data": {"name": "diff"}, "mark": "line", "encoding": {
    "x": {"field": "t", "type": "quantitative", "scale": {"domain": [0, 60]}, "axis": {"values": [0,10,20,30,40,50,60], "tickCount": 20, "labelOverlap": false, "title": "Time (months)"}},
    "y": {"field": "s", "type": "quantitative", "scale": {"domain": [0, 100]}, "axis": {"values": [0,20,40,60,80,100], "tickCount": 20, "labelOverlap": false, "title": "Percent survival"}},
    "color": {"field": "g", "type": "nominal", "scale": {"domain": ["Well differentiated (n = 112)", "Poorly differentiated (n = 146)"], "range": ["#3a9a3a", "#2a2aa0"]}, "legend": {"orient": "none", "legendX": 39, "legendY": 50, "labelExpr": "[slice(datum.label, 0, indexof(datum.label, ' (n')), slice(datum.label, indexof(datum.label, ' (n') + 1)]"}}}},
   {"data": {"name": "cens"}, "transform": [{"filter": "datum.p == 'diff'"}], "mark": "tick", "encoding": {"x": {"field": "t", "type": "quantitative"}, "y": {"field": "s", "type": "quantitative"}, "color": {"field": "g", "type": "nominal"}}},
   {"data": {"values": [{}]}, "mark": {"type": "text", "text": "P", "font": "Liberation Serif", "fontSize": 10.5, "color": "#111", "fontStyle": "italic", "align": "left"}, "encoding": {"x": {"datum": 30.2}, "y": {"datum": 92}}},
   {"data": {"values": [{}]}, "mark": {"type": "text", "text": "= 0.340", "font": "Liberation Serif", "fontSize": 10.5, "color": "#111", "align": "left", "dx": 10}, "encoding": {"x": {"datum": 30.2}, "y": {"datum": 92}}}
  ]},
  {"width": 183, "height": 122, "title": "Survival proportions: Clinical stage", "layer": [
   {"data": {"name": "clin"}, "mark": "line", "encoding": {
    "x": {"field": "t", "type": "quantitative", "scale": {"domain": [0, 60]}, "axis": {"values": [0,10,20,30,40,50,60], "tickCount": 20, "labelOverlap": false, "title": "Time (months)"}},
    "y": {"field": "s", "type": "quantitative", "scale": {"domain": [0, 100]}, "axis": {"values": [0,20,40,60,80,100], "tickCount": 20, "labelOverlap": false, "title": "Percent survival"}},
    "color": {"field": "g", "type": "nominal", "scale": {"domain": ["Stage I (n = 143)", "Stage II (n = 76)", "Stage III (n = 39)"], "range": ["#111111", "#3a9a3a", "#2a2aa0"]}, "legend": {"orient": "none", "legendX": 44, "legendY": 44, "labelExpr": "[slice(datum.label, 0, indexof(datum.label, ' (n')), slice(datum.label, indexof(datum.label, ' (n') + 1)]"}}}},
   {"data": {"name": "cens"}, "transform": [{"filter": "datum.p == 'clin'"}], "mark": "tick", "encoding": {"x": {"field": "t", "type": "quantitative"}, "y": {"field": "s", "type": "quantitative"}, "color": {"field": "g", "type": "nominal"}}},
   {"data": {"values": [{}]}, "mark": {"type": "text", "text": "P", "font": "Liberation Serif", "fontSize": 10.5, "color": "#111", "fontStyle": "italic", "align": "left"}, "encoding": {"x": {"datum": 43.2}, "y": {"datum": 85.9}}},
   {"data": {"values": [{}]}, "mark": {"type": "text", "text": "< 0.001", "font": "Liberation Serif", "fontSize": 10.5, "color": "#111", "align": "left", "dx": 10}, "encoding": {"x": {"datum": 43.2}, "y": {"datum": 85.9}}}
  ]}
 ], "spacing": 46, "bounds": "flush", "resolve": {"scale": {"color": "independent"}, "legend": {"color": "independent"}}},
 {"hconcat": [
  {"width": 183, "height": 120, "title": "Survival proportions: CK20 expression", "layer": [
   {"data": {"name": "ck20"}, "mark": "line", "encoding": {
    "x": {"field": "t", "type": "quantitative", "scale": {"domain": [0, 60]}, "axis": {"values": [0,10,20,30,40,50,60], "tickCount": 20, "labelOverlap": false, "title": "Time (months)"}},
    "y": {"field": "s", "type": "quantitative", "scale": {"domain": [0, 100]}, "axis": {"values": [0,20,40,60,80,100], "tickCount": 20, "labelOverlap": false, "title": "Percent survival"}},
    "color": {"field": "g", "type": "nominal", "scale": {"domain": ["CK20 positive expression (n = 197)", "CK20 negative expression (n = 61)"], "range": ["#3a9a3a", "#2a2aa0"]}, "legend": {"orient": "none", "legendX": 33, "legendY": 52, "labelExpr": "[slice(datum.label, 0, indexof(datum.label, ' (n')), slice(datum.label, indexof(datum.label, ' (n') + 1)]"}}}},
   {"data": {"name": "cens"}, "transform": [{"filter": "datum.p == 'ck20'"}], "mark": "tick", "encoding": {"x": {"field": "t", "type": "quantitative"}, "y": {"field": "s", "type": "quantitative"}, "color": {"field": "g", "type": "nominal"}}},
   {"data": {"values": [{}]}, "mark": {"type": "text", "text": "P", "font": "Liberation Serif", "fontSize": 10.5, "color": "#111", "fontStyle": "italic", "align": "left"}, "encoding": {"x": {"datum": 32.1}, "y": {"datum": 90.4}}},
   {"data": {"values": [{}]}, "mark": {"type": "text", "text": "= 0.403", "font": "Liberation Serif", "fontSize": 10.5, "color": "#111", "align": "left", "dx": 10}, "encoding": {"x": {"datum": 32.1}, "y": {"datum": 90.4}}}
  ]},
  {"width": 180, "height": 120, "title": "Survival proportions: CK7 expression", "layer": [
   {"data": {"name": "ck7"}, "mark": "line", "encoding": {
    "x": {"field": "t", "type": "quantitative", "scale": {"domain": [0, 60]}, "axis": {"values": [0,10,20,30,40,50,60], "tickCount": 20, "labelOverlap": false, "title": "Time (months)"}},
    "y": {"field": "s", "type": "quantitative", "scale": {"domain": [0, 100]}, "axis": {"values": [0,20,40,60,80,100], "tickCount": 20, "labelOverlap": false, "title": "Percent survival"}},
    "color": {"field": "g", "type": "nominal", "scale": {"domain": ["CK7 negative expression (n = 54)", "CK7 positive expression (n = 204)"], "range": ["#3a9a3a", "#2a2aa0"]}, "legend": {"orient": "none", "legendX": 27, "legendY": 57, "labelExpr": "[slice(datum.label, 0, indexof(datum.label, ' (n')), slice(datum.label, indexof(datum.label, ' (n') + 1)]"}}}},
   {"data": {"name": "cens"}, "transform": [{"filter": "datum.p == 'ck7'"}], "mark": "tick", "encoding": {"x": {"field": "t", "type": "quantitative"}, "y": {"field": "s", "type": "quantitative"}, "color": {"field": "g", "type": "nominal"}}},
   {"data": {"values": [{}]}, "mark": {"type": "text", "text": "P", "font": "Liberation Serif", "fontSize": 10.5, "color": "#111", "fontStyle": "italic", "align": "left"}, "encoding": {"x": {"datum": 32.4}, "y": {"datum": 76.4}}},
   {"data": {"values": [{}]}, "mark": {"type": "text", "text": "= 0.042", "font": "Liberation Serif", "fontSize": 10.5, "color": "#111", "align": "left", "dx": 10}, "encoding": {"x": {"datum": 32.4}, "y": {"datum": 76.4}}}
  ]}
 ], "spacing": 50, "bounds": "flush", "resolve": {"scale": {"color": "independent"}, "legend": {"color": "independent"}}}
]
}
